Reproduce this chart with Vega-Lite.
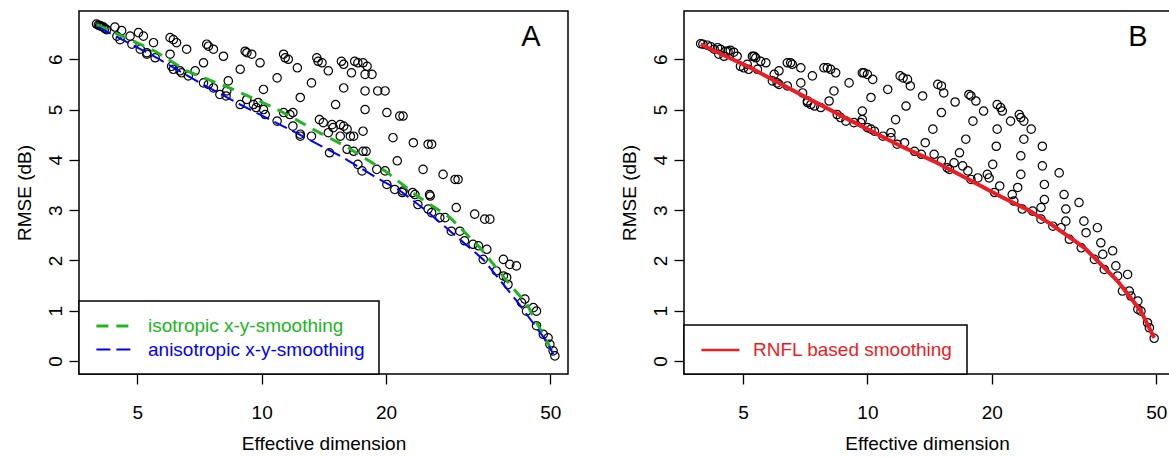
{
  "$schema": "https://vega.github.io/schema/vega-lite/v6.json",
  "padding": {"left": 14, "top": 10, "right": 0, "bottom": 0},
  "spacing": 50,
  "resolve": {"scale": {"color": "independent", "strokeDash": "independent", "strokeWidth": "independent"}, "legend": {"color": "independent", "strokeDash": "independent"}},
  "config": {
    "font": "Liberation Sans",
    "view": {"stroke": "black", "strokeWidth": 1.5},
    "axis": {"domain": false, "grid": false, "tickColor": "black", "tickSize": 10, "tickWidth": 1.3, "labelColor": "black", "titleColor": "black", "labelFontSize": 19, "titleFontSize": 19, "titleFontWeight": "normal", "labelFont": "Liberation Sans", "titleFont": "Liberation Sans"},
    "axisX": {"labelPadding": 19, "titlePadding": 12},
    "axisY": {"labelAngle": -90, "labelAlign": "center", "labelBaseline": "bottom", "labelPadding": 4, "titlePadding": 12},
    "legend": {"orient": "bottom-left", "offset": 0, "strokeColor": "black", "strokeWidth": 1.5, "fillColor": "white", "padding": 14, "symbolType": "M-0.8,0H3.2", "symbolSize": 361, "labelFontSize": 19, "labelOffset": 33, "rowPadding": 3, "labelFont": "Liberation Sans", "labelLimit": 400}
  },
  "datasets": {
    "ptsA": [
      {"d":3.98,"r":6.70},{"d":4.02,"r":6.68},{"d":4.05,"r":6.67},{"d":4.08,"r":6.66},{"d":4.10,"r":6.65},{"d":4.14,"r":6.64},{"d":4.17,"r":6.61},{"d":4.21,"r":6.59},
      {"d":4.41,"r":6.64},{"d":4.58,"r":6.57},{"d":4.46,"r":6.46},{"d":4.54,"r":6.39},{"d":4.80,"r":6.46},{"d":5.03,"r":6.53},{"d":5.17,"r":6.46},{"d":5.08,"r":6.20},
      {"d":5.27,"r":6.13},{"d":5.47,"r":6.33},{"d":5.52,"r":6.03},{"d":6.00,"r":6.43},{"d":6.11,"r":6.39},{"d":6.22,"r":6.33},{"d":6.00,"r":6.10},{"d":6.05,"r":5.86},
      {"d":6.11,"r":5.80},{"d":6.34,"r":5.77},{"d":6.58,"r":6.20},{"d":6.64,"r":5.67},{"d":6.90,"r":5.77},{"d":7.23,"r":5.93},{"d":7.36,"r":6.30},{"d":7.43,"r":6.26},
      {"d":7.64,"r":6.20},{"d":8.08,"r":6.06},{"d":7.23,"r":5.53},{"d":7.43,"r":5.50},{"d":7.64,"r":5.43},{"d":8.23,"r":5.37},{"d":8.30,"r":5.57},{"d":7.92,"r":5.30},
      {"d":8.87,"r":5.80},{"d":9.12,"r":6.16},{"d":9.21,"r":6.13},{"d":9.46,"r":6.10},{"d":9.91,"r":5.93},{"d":10.1,"r":5.40},{"d":9.20,"r":5.20},{"d":8.87,"r":5.10},
      {"d":9.55,"r":5.10},{"d":9.80,"r":5.14},{"d":10.1,"r":5.00},{"d":10.2,"r":4.90},{"d":10.9,"r":5.63},{"d":11.3,"r":6.10},{"d":11.4,"r":6.03},{"d":11.6,"r":6.00},
      {"d":12.2,"r":5.83},{"d":12.4,"r":5.24},{"d":11.3,"r":4.94},{"d":11.7,"r":4.90},{"d":11.9,"r":4.94},{"d":10.9,"r":4.77},{"d":11.9,"r":4.67},{"d":12.4,"r":4.47},
      {"d":13.2,"r":5.53},{"d":13.6,"r":6.03},{"d":13.7,"r":5.96},{"d":14.0,"r":5.93},{"d":14.5,"r":5.77},{"d":15.1,"r":5.10},{"d":15.8,"r":5.43},{"d":15.6,"r":5.96},
      {"d":15.8,"r":5.90},{"d":16.5,"r":5.73},{"d":13.8,"r":4.80},{"d":14.1,"r":4.74},{"d":14.8,"r":4.70},{"d":14.9,"r":4.64},{"d":15.5,"r":4.70},{"d":15.8,"r":4.67},
      {"d":16.1,"r":4.61},{"d":16.4,"r":4.47},{"d":16.7,"r":4.47},{"d":15.5,"r":4.47},{"d":13.2,"r":4.47},{"d":14.5,"r":4.54},{"d":16.8,"r":5.96},{"d":17.1,"r":5.93},
      {"d":17.6,"r":5.93},{"d":18.0,"r":5.86},{"d":17.8,"r":5.70},{"d":18.5,"r":5.70},{"d":17.8,"r":5.37},{"d":17.8,"r":5.00},{"d":17.6,"r":4.57},{"d":17.6,"r":4.17},
      {"d":17.9,"r":4.17},{"d":16.7,"r":4.17},{"d":17.1,"r":3.91},{"d":17.5,"r":3.78},{"d":19.0,"r":3.81},{"d":19.9,"r":3.78},{"d":19.1,"r":5.37},{"d":19.9,"r":5.37},
      {"d":20.1,"r":4.94},{"d":20.8,"r":4.44},{"d":21.3,"r":3.98},{"d":21.6,"r":4.87},{"d":22.0,"r":4.87},{"d":23.3,"r":4.34},{"d":25.3,"r":4.31},{"d":25.8,"r":4.31},
      {"d":20.1,"r":3.51},{"d":21.0,"r":3.41},{"d":21.9,"r":3.35},{"d":23.2,"r":3.35},{"d":25.5,"r":3.31},{"d":24.6,"r":3.81},{"d":27.5,"r":3.71},{"d":29.4,"r":3.61},
      {"d":29.9,"r":3.61},{"d":23.9,"r":3.11},{"d":25.3,"r":3.02},{"d":25.8,"r":2.95},{"d":27.0,"r":2.85},{"d":27.8,"r":2.85},{"d":29.6,"r":3.05},{"d":32.8,"r":2.92},
      {"d":34.7,"r":2.82},{"d":35.7,"r":2.82},{"d":16.1,"r":4.21},{"d":14.6,"r":4.14},{"d":12.4,"r":4.51},{"d":9.7,"r":5.04},{"d":8.2,"r":5.27},{"d":6.40,"r":5.73},
      {"d":5.27,"r":6.10},{"d":4.85,"r":6.30},{"d":22.0,"r":3.38},{"d":23.5,"r":3.31},{"d":25.6,"r":3.28},{"d":28.8,"r":2.58},{"d":30.2,"r":2.58},{"d":31.0,"r":2.39},
      {"d":32.5,"r":2.32},{"d":33.5,"r":2.29},{"d":35.1,"r":2.22},{"d":34.4,"r":2.02},{"d":38.5,"r":2.02},{"d":39.9,"r":1.92},{"d":41.4,"r":1.89},{"d":37.0,"r":1.79},
      {"d":38.5,"r":1.69},{"d":39.2,"r":1.66},{"d":39.5,"r":1.52},{"d":42.6,"r":1.16},{"d":43.4,"r":1.23},{"d":43.8,"r":0.99},{"d":45.5,"r":1.06},{"d":46.3,"r":0.99},
      {"d":46.3,"r":0.70},{"d":48.1,"r":0.53},{"d":49.4,"r":0.46},{"d":49.9,"r":0.33},{"d":50.8,"r":0.20},{"d":51.3,"r":0.10}
    ],
    "linesA": [
      {"m":"isotropic x-y-smoothing","d":3.99,"r":6.69},{"m":"isotropic x-y-smoothing","d":5.52,"r":6.16},{"m":"isotropic x-y-smoothing","d":6.58,"r":5.77},
      {"m":"isotropic x-y-smoothing","d":8.53,"r":5.40},{"m":"isotropic x-y-smoothing","d":10.5,"r":5.07},{"m":"isotropic x-y-smoothing","d":11.7,"r":4.87},
      {"m":"isotropic x-y-smoothing","d":13.1,"r":4.64},{"m":"isotropic x-y-smoothing","d":16.2,"r":4.24},{"m":"isotropic x-y-smoothing","d":19.9,"r":3.78},
      {"m":"isotropic x-y-smoothing","d":24.0,"r":3.26},{"m":"isotropic x-y-smoothing","d":28.6,"r":2.85},{"m":"isotropic x-y-smoothing","d":33.8,"r":2.25},
      {"m":"isotropic x-y-smoothing","d":39.9,"r":1.52},{"m":"isotropic x-y-smoothing","d":43.9,"r":1.13},{"m":"isotropic x-y-smoothing","d":48.0,"r":0.53},
      {"m":"isotropic x-y-smoothing","d":51.3,"r":0.10},
      {"m":"anisotropic x-y-smoothing","d":4.02,"r":6.64},{"m":"anisotropic x-y-smoothing","d":5.57,"r":6.03},{"m":"anisotropic x-y-smoothing","d":7.09,"r":5.53},
      {"m":"anisotropic x-y-smoothing","d":8.87,"r":5.10},{"m":"anisotropic x-y-smoothing","d":12.3,"r":4.51},{"m":"anisotropic x-y-smoothing","d":15.8,"r":4.04},
      {"m":"anisotropic x-y-smoothing","d":19.0,"r":3.64},{"m":"anisotropic x-y-smoothing","d":21.6,"r":3.39},{"m":"anisotropic x-y-smoothing","d":25.1,"r":2.98},
      {"m":"anisotropic x-y-smoothing","d":34.4,"r":2.02},{"m":"anisotropic x-y-smoothing","d":41.5,"r":1.19},{"m":"anisotropic x-y-smoothing","d":48.9,"r":0.40},
      {"m":"anisotropic x-y-smoothing","d":50.9,"r":0.13}
    ],
    "ptsB": [
      {"d":3.95,"r":6.31},{"d":4.00,"r":6.30},{"d":4.10,"r":6.28},{"d":4.18,"r":6.25},{"d":4.26,"r":6.20},{"d":4.34,"r":6.23},{"d":4.41,"r":6.20},{"d":4.54,"r":6.16},
      {"d":4.60,"r":6.16},{"d":4.66,"r":6.18},{"d":4.75,"r":6.14},{"d":4.37,"r":6.10},{"d":4.50,"r":6.06},{"d":4.84,"r":6.06},{"d":4.93,"r":5.86},{"d":5.02,"r":5.83},
      {"d":5.12,"r":5.90},{"d":5.16,"r":5.80},{"d":5.42,"r":5.80},{"d":5.27,"r":6.06},{"d":5.32,"r":6.06},{"d":5.37,"r":6.03},{"d":5.52,"r":5.96},{"d":5.68,"r":5.93},
      {"d":5.95,"r":5.70},{"d":6.11,"r":5.77},{"d":5.89,"r":5.57},{"d":6.05,"r":5.53},{"d":6.11,"r":5.50},{"d":6.40,"r":5.47},{"d":6.40,"r":5.93},{"d":6.52,"r":5.93},
      {"d":6.58,"r":5.90},{"d":6.90,"r":5.83},{"d":6.90,"r":5.53},{"d":6.97,"r":5.33},{"d":7.16,"r":5.17},{"d":7.16,"r":5.14},{"d":7.30,"r":5.10},{"d":7.45,"r":5.07},
      {"d":7.71,"r":5.04},{"d":8.08,"r":5.17},{"d":8.30,"r":5.37},{"d":7.36,"r":5.67},{"d":7.85,"r":5.83},{"d":8.00,"r":5.83},{"d":8.15,"r":5.80},{"d":8.38,"r":5.73},
      {"d":9.03,"r":5.53},{"d":9.72,"r":5.73},{"d":9.81,"r":5.73},{"d":10.0,"r":5.70},{"d":10.3,"r":5.60},{"d":8.45,"r":4.90},{"d":8.61,"r":4.84},{"d":8.87,"r":4.77},
      {"d":9.28,"r":4.74},{"d":9.64,"r":4.74},{"d":9.72,"r":4.97},{"d":9.72,"r":4.80},{"d":10.2,"r":5.24},{"d":10.0,"r":4.64},{"d":10.2,"r":4.61},{"d":10.4,"r":4.57},
      {"d":10.9,"r":4.47},{"d":11.2,"r":5.40},{"d":11.4,"r":4.44},{"d":11.7,"r":4.80},{"d":11.4,"r":4.54},{"d":12.0,"r":5.67},{"d":12.2,"r":5.63},{"d":12.5,"r":5.60},
      {"d":12.7,"r":5.47},{"d":13.6,"r":5.27},{"d":12.4,"r":5.07},{"d":11.8,"r":4.31},{"d":12.3,"r":4.34},{"d":13.0,"r":4.17},{"d":13.5,"r":4.11},{"d":14.4,"r":4.61},
      {"d":13.8,"r":4.34},{"d":14.8,"r":5.50},{"d":15.1,"r":5.47},{"d":15.3,"r":5.33},{"d":16.3,"r":5.15},{"d":15.1,"r":4.94},{"d":14.5,"r":4.11},{"d":15.1,"r":3.98},
      {"d":15.6,"r":3.84},{"d":15.8,"r":3.81},{"d":16.2,"r":3.94},{"d":16.7,"r":4.14},{"d":17.3,"r":4.41},{"d":18.0,"r":4.77},{"d":17.6,"r":5.30},{"d":17.8,"r":5.27},
      {"d":18.3,"r":5.17},{"d":19.1,"r":4.97},{"d":17.0,"r":3.88},{"d":17.5,"r":3.78},{"d":17.8,"r":3.61},{"d":18.5,"r":3.64},{"d":19.5,"r":3.71},{"d":19.7,"r":3.64},
      {"d":20.1,"r":3.91},{"d":20.6,"r":5.10},{"d":21.0,"r":5.04},{"d":20.6,"r":4.61},{"d":20.5,"r":4.27},{"d":20.9,"r":3.48},{"d":20.3,"r":3.35},{"d":21.2,"r":4.97},
      {"d":22.2,"r":4.77},{"d":23.3,"r":4.90},{"d":23.5,"r":4.84},{"d":23.9,"r":4.77},{"d":24.9,"r":4.61},{"d":23.9,"r":4.41},{"d":23.5,"r":4.08},{"d":23.5,"r":3.71},
      {"d":23.1,"r":3.45},{"d":22.4,"r":3.31},{"d":22.6,"r":3.18},{"d":23.7,"r":3.02},{"d":25.1,"r":2.98},{"d":26.3,"r":3.05},{"d":26.5,"r":4.27},{"d":26.5,"r":3.88},
      {"d":26.8,"r":3.51},{"d":26.8,"r":3.21},{"d":26.3,"r":2.82},{"d":28.1,"r":2.68},{"d":29.4,"r":2.65},{"d":29.1,"r":3.74},{"d":29.9,"r":3.31},{"d":30.2,"r":3.02},
      {"d":30.2,"r":2.78},{"d":30.8,"r":2.42},{"d":32.5,"r":3.15},{"d":33.4,"r":2.78},{"d":33.8,"r":2.55},{"d":32.9,"r":2.25},{"d":36.0,"r":2.65},{"d":36.7,"r":2.35},
      {"d":37.1,"r":2.12},{"d":35.4,"r":2.02},{"d":37.4,"r":1.82},{"d":39.2,"r":2.19},{"d":39.9,"r":1.89},{"d":40.3,"r":1.69},{"d":42.6,"r":1.72},{"d":41.4,"r":1.39},
      {"d":43.0,"r":1.39},{"d":43.4,"r":1.29},{"d":45.1,"r":1.19},{"d":45.1,"r":1.03},{"d":45.9,"r":0.99},{"d":47.6,"r":0.76},{"d":48.1,"r":0.66},{"d":49.4,"r":0.45}
    ],
    "lineB": [
      {"m":"RNFL based smoothing","d":3.95,"r":6.30},{"m":"RNFL based smoothing","d":5.21,"r":5.83},{"m":"RNFL based smoothing","d":6.90,"r":5.30},
      {"m":"RNFL based smoothing","d":9.11,"r":4.78},{"m":"RNFL based smoothing","d":12.0,"r":4.28},{"m":"RNFL based smoothing","d":14.5,"r":3.97},
      {"m":"RNFL based smoothing","d":17.5,"r":3.62},{"m":"RNFL based smoothing","d":21.0,"r":3.27},{"m":"RNFL based smoothing","d":24.5,"r":3.00},
      {"m":"RNFL based smoothing","d":27.8,"r":2.72},{"m":"RNFL based smoothing","d":33.5,"r":2.25},{"m":"RNFL based smoothing","d":40.3,"r":1.59},
      {"m":"RNFL based smoothing","d":45.8,"r":1.00},{"m":"RNFL based smoothing","d":49.4,"r":0.46}
    ],
    "panelA": [{"label": "A", "d": 44.9, "r": 6.26}],
    "panelB": [{"label": "B", "d": 45.1, "r": 6.26}]
  },
  "hconcat": [
    {
      "width": 489,
      "height": 363,
      "encoding": {
        "x": {"field": "d", "type": "quantitative", "scale": {"type": "log", "domain": [3.61, 55.2], "nice": false}, "axis": {"values": [5, 10, 20, 50], "title": "Effective dimension"}},
        "y": {"field": "r", "type": "quantitative", "scale": {"domain": [-0.26, 6.96], "nice": false, "zero": false}, "axis": {"values": [0, 1, 2, 3, 4, 5, 6], "title": "RMSE (dB)"}}
      },
      "layer": [
        {"data": {"name": "ptsA"}, "mark": {"type": "point", "shape": "circle", "filled": false, "color": "black", "size": 70, "strokeWidth": 1.2, "opacity": 1}},
        {"data": {"name": "linesA"}, "mark": {"type": "line"},
         "encoding": {
           "color": {"field": "m", "type": "nominal", "scale": {"domain": ["isotropic x-y-smoothing", "anisotropic x-y-smoothing"], "range": ["#21b521", "#0000ff"]},
             "legend": {"title": null, "encode": {"labels": {"update": {"fill": {"signal": "datum.label == 'isotropic x-y-smoothing' ? '#21b521' : '#0000ff'"}}}}}},
           "strokeDash": {"field": "m", "type": "nominal", "scale": {"domain": ["isotropic x-y-smoothing", "anisotropic x-y-smoothing"], "range": [[12, 8], [14, 6]]},
             "legend": {"title": null, "encode": {"labels": {"update": {"fill": {"signal": "datum.label == 'isotropic x-y-smoothing' ? '#21b521' : '#0000ff'"}}}}}},
           "strokeWidth": {"field": "m", "type": "nominal", "scale": {"domain": ["isotropic x-y-smoothing", "anisotropic x-y-smoothing"], "range": [3, 2]}, "legend": null}
         }},
        {"data": {"name": "panelA"}, "mark": {"type": "text", "fontSize": 29, "align": "center", "baseline": "alphabetic", "color": "black", "font": "Liberation Sans"},
         "encoding": {"text": {"field": "label"}}}
      ]
    },
    {
      "width": 486,
      "height": 363,
      "encoding": {
        "x": {"field": "d", "type": "quantitative", "scale": {"type": "log", "domain": [3.6, 53.95], "nice": false}, "axis": {"values": [5, 10, 20, 50], "title": "Effective dimension"}},
        "y": {"field": "r", "type": "quantitative", "scale": {"domain": [-0.26, 6.96], "nice": false, "zero": false}, "axis": {"values": [0, 1, 2, 3, 4, 5, 6], "title": "RMSE (dB)"}}
      },
      "layer": [
        {"data": {"name": "ptsB"}, "mark": {"type": "point", "shape": "circle", "filled": false, "color": "black", "size": 70, "strokeWidth": 1.2, "opacity": 1}},
        {"data": {"name": "lineB"}, "mark": {"type": "line", "strokeWidth": 4},
         "encoding": {
           "color": {"field": "m", "type": "nominal", "scale": {"domain": ["RNFL based smoothing"], "range": ["#ec1c24"]}, "legend": {"title": null, "labelColor": "#ec1c24", "symbolStrokeWidth": 2.5}}
         }},
        {"data": {"name": "panelB"}, "mark": {"type": "text", "fontSize": 29, "align": "center", "baseline": "alphabetic", "color": "black", "font": "Liberation Sans"},
         "encoding": {"text": {"field": "label"}}}
      ]
    }
  ]
}
